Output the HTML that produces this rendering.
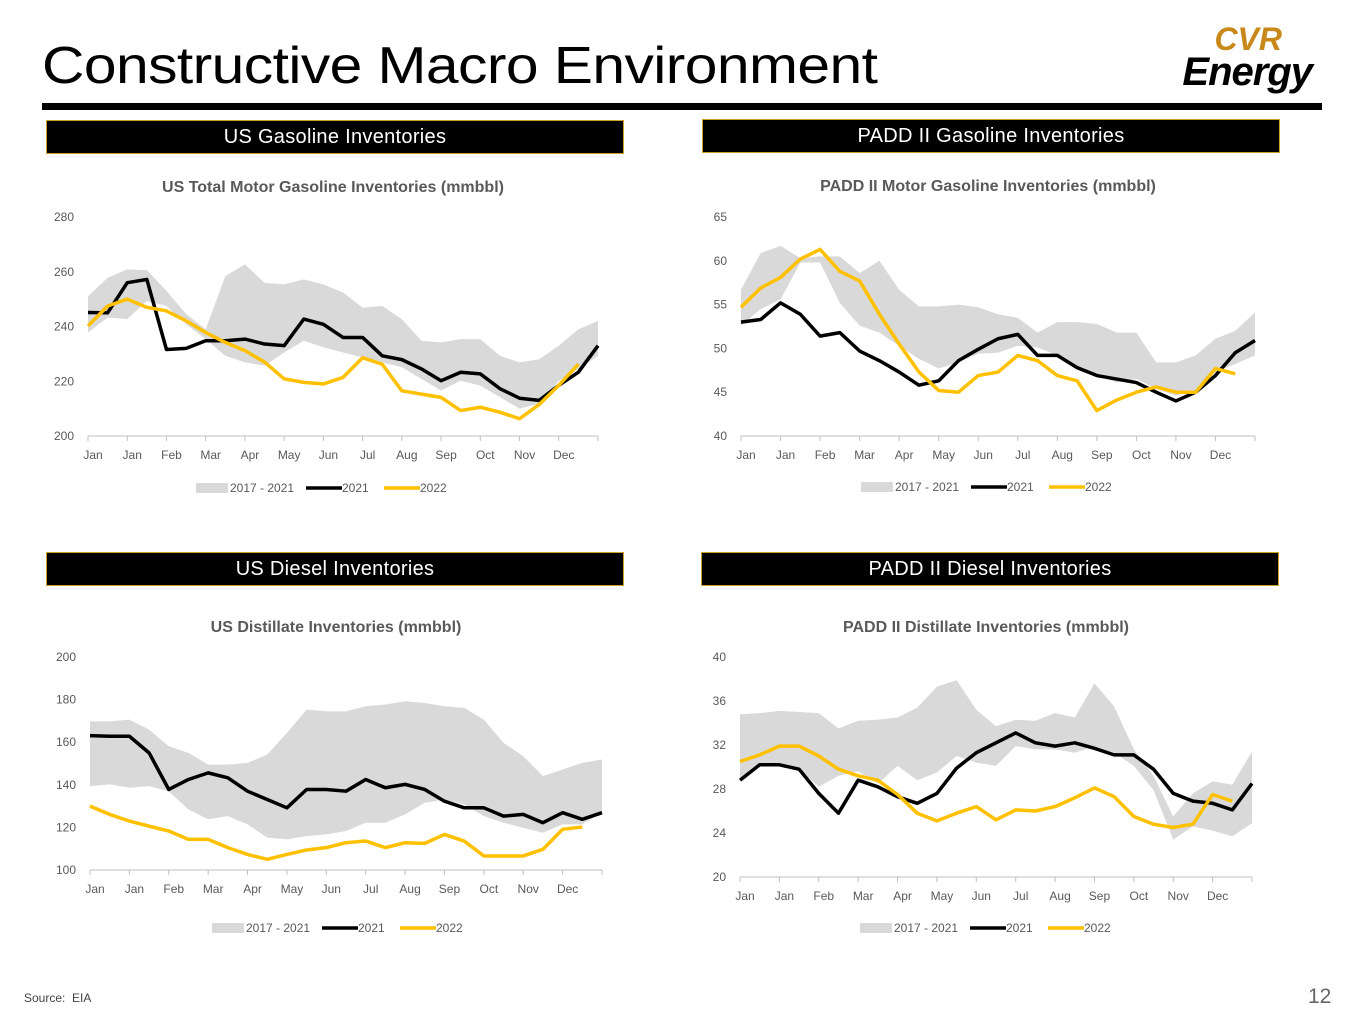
<!DOCTYPE html>
<html><head><meta charset="utf-8"><style>
body{margin:0;width:1365px;height:1024px;background:#fff;position:relative;overflow:hidden;font-family:"Liberation Sans",sans-serif}
.hdr{position:absolute;height:32px;background:#000;border:1px solid #c9a227;color:#fff;font-size:20px;text-align:center;line-height:32px;letter-spacing:.3px}
svg text{font-family:"Liberation Sans",sans-serif}
</style></head><body>
<div style="position:absolute;left:42px;top:36px;font-size:52px;color:#000;letter-spacing:-0.5px;transform:scaleX(1.13);transform-origin:left top;white-space:nowrap">Constructive Macro Environment</div>
<div style="position:absolute;left:42px;top:103px;width:1280px;height:7px;background:#000"></div>
<div style="position:absolute;left:1140px;top:24px;width:180px;height:70px;font-style:italic;font-weight:bold;text-align:right">
<div style="font-size:32px;color:#c8891a;line-height:30px;margin-right:38px">CVR</div>
<div style="font-size:40px;color:#000;line-height:36px;margin-right:8px;letter-spacing:-1px">Energy</div></div>
<div class="hdr" style="left:46px;top:120px;width:576px">US Gasoline Inventories</div>
<div class="hdr" style="left:702px;top:119px;width:576px">PADD II Gasoline Inventories</div>
<div class="hdr" style="left:46px;top:552px;width:576px">US Diesel Inventories</div>
<div class="hdr" style="left:701px;top:552px;width:576px">PADD II Diesel Inventories</div>
<div style="position:absolute;left:24px;top:991px;font-size:12px;color:#444">Source:&nbsp; EIA</div>
<div style="position:absolute;left:1308px;top:985px;font-size:21px;color:#666">12</div>
<svg id="svg" width="1365" height="1024" style="position:absolute;left:0;top:0"></svg>
<script>
const months=["Jan","Jan","Feb","Mar","Apr","May","Jun","Jul","Aug","Sep","Oct","Nov","Dec"];
const c1Ticks=[200,220,240,260,280];
const c1Hi=[251,257.8,260.8,260.6,253,244.5,239,258.4,262.7,256,255.4,257.2,255.4,252.4,246.9,247.5,242.7,234.8,234.2,235.4,235.4,229.3,226.9,228,233,239,242];
const c1Lo=[237.8,243.3,242.7,249.3,247.5,240.8,235.4,229.3,226.9,225.7,230.5,234.8,232.4,230.5,228.7,226.9,225.1,220.8,216.6,220.2,218.4,214.2,210,211.8,220.2,224.5,229.3];
const c1Y21=[245.1,245,256,257.2,231.6,232,234.8,234.8,235.4,233.6,233,242.7,240.8,236,236,229.3,227.9,224.5,220.2,223.3,222.7,217.3,213.8,213,218.5,223.3,233];
const c1Y22=[240.2,247.5,250,247,245.7,242.1,237.8,234.2,231.2,227,220.9,219.6,219,221.4,228.6,226.2,216.5,215.3,214.1,209.3,210.5,208.7,206.3,211.5,218.5,226.3];
const c2Ticks=[40,45,50,55,60,65];
const c2Hi=[56.7,60.9,61.7,60.3,60.5,60.5,58.6,60,56.7,54.8,54.8,55,54.7,53.9,53.5,51.8,53,53,52.8,51.8,51.8,48.4,48.4,49.2,51.1,52,54.1];
const c2Lo=[52.6,54.5,55.6,59.8,59.8,55.2,52.6,51.8,50.3,48.8,47.7,48.4,49.4,49.5,50.3,50.1,49.2,47.8,46.9,46.1,46.5,45.4,44.6,45.2,47.3,48.2,49.2];
const c2Y21=[53,53.3,55.2,53.9,51.4,51.8,49.7,48.6,47.3,45.8,46.3,48.6,49.9,51.1,51.6,49.2,49.2,47.8,46.9,46.5,46.1,45,44,45,46.9,49.5,50.9];
const c2Y22=[54.7,56.9,58.1,60.2,61.3,58.8,57.7,53.9,50.5,47.3,45.2,45,46.9,47.3,49.2,48.6,46.9,46.3,42.9,44.1,45,45.6,45,45,47.7,47.1];
const c3Ticks=[100,120,140,160,180,200];
const c3Hi=[169.8,169.8,170.6,165.9,158.1,155,149.5,149.5,150.3,154.2,164.4,175.3,174.5,174.5,176.9,177.7,179.2,178.4,176.9,176.1,170.6,159.7,153.4,144.1,147.2,150.3,151.9];
const c3Lo=[139.4,140.2,138.6,139.4,137,128.4,123.8,125.3,121.4,115.2,114.4,115.9,116.7,118.3,122.2,122.2,126.1,131.6,133.1,130.8,125.3,122.2,119.8,117.5,121.4,121.4,126.9];
const c3Y21=[163.1,162.8,162.8,155,137.8,142.5,145.6,143.3,137,133.1,129.2,137.8,137.8,137,142.5,138.6,140.2,137.8,132.3,129.2,129.2,125.3,126.1,122.2,126.9,123.8,126.9];
const c3Y22=[130,126.1,123,120.6,118.3,114.4,114.4,110.5,107.3,105,107.3,109.4,110.5,112.8,113.6,110.5,112.8,112.5,116.7,113.6,106.6,106.6,106.6,109.7,119.1,120.2];
const c4Ticks=[20,24,28,32,36,40];
const c4Hi=[34.8,34.9,35.1,35,34.9,33.5,34.2,34.3,34.5,35.4,37.3,37.9,35.2,33.7,34.3,34.2,34.9,34.5,37.6,35.5,31.6,29.2,25.5,27.6,28.7,28.4,31.4];
const c4Lo=[28.8,30.2,30.2,29.8,28.2,29.2,29.6,28.5,30.1,28.8,29.5,31,30.4,30.1,31.9,31.6,31.6,31.3,31.9,31.3,30.1,27.9,23.4,24.6,24.2,23.7,24.9];
const c4Y21=[28.8,30.2,30.2,29.8,27.6,25.8,28.8,28.2,27.3,26.7,27.6,29.9,31.3,32.2,33.1,32.2,31.9,32.2,31.7,31.1,31.1,29.8,27.6,26.9,26.7,26.1,28.5];
const c4Y22=[30.5,31.1,31.9,31.9,31,29.8,29.2,28.8,27.5,25.8,25.1,25.8,26.4,25.2,26.1,26,26.4,27.2,28.1,27.3,25.5,24.8,24.5,24.8,27.5,26.9];

const svg=document.getElementById('svg');const NS='http://www.w3.org/2000/svg';
function mk(t,a,p){const e=document.createElementNS(NS,t);for(const k in a)e.setAttribute(k,a[k]);(p||svg).appendChild(e);return e;}
function chart(name,title,ttlY,x0,x1,yB,yT,ticks,hi,lo,s21,s22,legY,legX){
  const g=mk('g',{});
  
  
  const vmin=ticks[0],vmax=ticks[ticks.length-1];
  const X=i=>x0+(x1-x0)*i/(hi.length-1);
  const Y=v=>yB-(v-vmin)/(vmax-vmin)*(yB-yT);
  const t=mk('text',{x:(x0+x1)/2-10,y:ttlY,'text-anchor':'middle','font-size':16,'font-weight':'bold',fill:'#595959'},g);t.textContent=title;
  
  
  ticks.forEach(v=>{const l=mk('text',{x:x0-14,y:Y(v)+4,'text-anchor':'end','font-size':12,fill:'#595959'},g);l.textContent=v;
    
    });
  let d='M'+hi.map((v,i)=>X(i)+','+Y(v)).join('L');
  for(let i=lo.length-1;i>=0;i--)d+='L'+X(i)+','+Y(lo[i]);
  const band=mk('path',{d:d+'Z',fill:'#d9d9d9'},g);
  
  
  mk('line',{x1:x0,x2:x1,y1:yB,y2:yB,stroke:'#bfbfbf'},g);
  const step=(x1-x0)/13;
  for(let i=0;i<=13;i++)mk('line',{x1:x0+i*step,x2:x0+i*step,y1:yB,y2:yB+5,stroke:'#bfbfbf'},g);
  months.forEach((m,i)=>{const l=mk('text',{x:x0+i*step+5,y:yB+23,'text-anchor':'middle','font-size':12,fill:'#595959'},g);l.textContent=m;
    
    });
  const p21=mk('polyline',{points:s21.map((v,i)=>X(i)+','+Y(v)).join(' '),fill:'none',stroke:'#000','stroke-width':3.5,'stroke-linejoin':'round'},g);
  
  
  const p22=mk('polyline',{points:s22.map((v,i)=>X(i)+','+Y(v)).join(' '),fill:'none',stroke:'#ffc000','stroke-width':3.5,'stroke-linejoin':'round'},g);
  
  
  const lg=mk('g',{},g);
  
  
  mk('rect',{x:legX,y:legY-5,width:32,height:10,fill:'#d9d9d9'},lg);
  let tx=mk('text',{x:legX+34,y:legY+4,'font-size':12,fill:'#595959'},lg);tx.textContent='2017 - 2021';
  mk('line',{x1:legX+110,x2:legX+146,y1:legY,y2:legY,stroke:'#000','stroke-width':3.5},lg);
  tx=mk('text',{x:legX+146,y:legY+4,'font-size':12,fill:'#595959'},lg);tx.textContent='2021';
  mk('line',{x1:legX+188,x2:legX+224,y1:legY,y2:legY,stroke:'#ffc000','stroke-width':3.5},lg);
  tx=mk('text',{x:legX+224,y:legY+4,'font-size':12,fill:'#595959'},lg);tx.textContent='2022';
}
chart('us-gasoline-chart','US Total Motor Gasoline Inventories (mmbbl)',192,88,598,436,217,c1Ticks,c1Hi,c1Lo,c1Y21,c1Y22,488,196);
chart('padd2-gasoline-chart','PADD II Motor Gasoline Inventories (mmbbl)',191,741,1255,436,217,c2Ticks,c2Hi,c2Lo,c2Y21,c2Y22,487,861);
chart('us-distillate-chart','US Distillate Inventories (mmbbl)',632,90,602,870,657,c3Ticks,c3Hi,c3Lo,c3Y21,c3Y22,928,212);
chart('padd2-distillate-chart','PADD II Distillate Inventories (mmbbl)',632,740,1252,877,657,c4Ticks,c4Hi,c4Lo,c4Y21,c4Y22,928,860);
</script>
</body></html>
